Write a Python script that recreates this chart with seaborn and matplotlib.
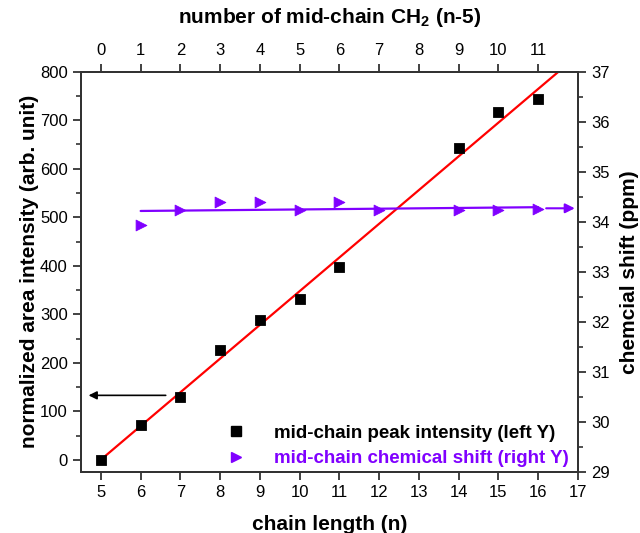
import numpy as np
import pandas as pd
import matplotlib
matplotlib.use("Agg")
import matplotlib.pyplot as plt
import seaborn as sns
from matplotlib.ticker import MultipleLocator
from matplotlib.lines import Line2D

# ---- data ----
chain_len_int = [5, 6, 7, 8, 9, 10, 11, 14, 15, 16]
intensity = [0, 72, 130, 227, 288, 331, 397, 643, 716, 743]
chain_len_shift = [6, 7, 8, 9, 10, 11, 12, 14, 15, 16]
chem_shift = [33.93, 34.23, 34.40, 34.40, 34.23, 34.40, 34.23, 34.23, 34.23, 34.25]
bottom_ticks = list(range(5, 18))
top_ticks = list(range(0, 12))
left_ticks = list(range(0, 801, 100))
right_ticks = list(range(29, 38))

sns.set_style("ticks")
plt.rcParams["font.family"] = ["Liberation Sans", "DejaVu Sans"]
plt.rcParams["mathtext.fontset"] = "custom"
plt.rcParams["mathtext.rm"] = "Liberation Sans:bold"
plt.rcParams["mathtext.bf"] = "Liberation Sans:bold"
plt.rcParams["text.color"] = "black"
plt.rcParams["axes.labelcolor"] = "black"
plt.rcParams["xtick.labelcolor"] = "black"
plt.rcParams["ytick.labelcolor"] = "black"

purple = "#8000FF"
df1 = pd.DataFrame({"n": chain_len_int, "I": intensity})
df2 = pd.DataFrame({"n": chain_len_shift, "s": chem_shift})

fig = plt.figure(figsize=(6.4, 5.33), dpi=100)
ax = fig.add_axes([0.1266, 0.1144, 0.9031 - 0.1266, 0.8655 - 0.1144])
ax2 = ax.twinx()

# fits
p1 = np.polyfit(df1["n"], df1["I"], 1)
xf1 = np.array([5, 17])
sns.lineplot(x=xf1, y=np.polyval(p1, xf1), ax=ax, color="red", lw=1.6, zorder=2)
sns.scatterplot(data=df1, x="n", y="I", ax=ax, marker="s", s=55, color="black",
                edgecolor="black", zorder=3)

p2 = np.polyfit(df2["n"], df2["s"], 1)
xf2 = np.array([6, 16])
sns.lineplot(x=xf2, y=np.polyval(p2, xf2), ax=ax2, color=purple, lw=1.6, zorder=2)
sns.scatterplot(data=df2, x="n", y="s", ax=ax2, marker=">", s=60, color=purple,
                edgecolor=purple, zorder=3)

# axis indication arrows
ax.annotate("", xy=(4.62, 133), xytext=(6.7, 133),
            arrowprops=dict(arrowstyle="-|>", color="black", lw=1.2, mutation_scale=12))
ax2.annotate("", xy=(16.92, 34.27), xytext=(16.2, 34.27), annotation_clip=False,
             arrowprops=dict(arrowstyle="-|>", color=purple, lw=1.5, mutation_scale=14,
                             shrinkA=0, shrinkB=0))

ax.set_xlim(4.5, 17)
ax.set_ylim(-25, 800)
ax2.set_ylim(29, 37)

ax.set_xticks(bottom_ticks)
ax.set_yticks(left_ticks)
ax.yaxis.set_minor_locator(MultipleLocator(50))
ax2.set_yticks(right_ticks)
ax2.yaxis.set_minor_locator(MultipleLocator(0.5))

for a in (ax, ax2):
    for sp in a.spines.values():
        sp.set_visible(True)
        sp.set_color("#333333")
        sp.set_linewidth(1.4)
ax.tick_params(axis="both", which="major", direction="out", length=6, width=1.3,
               labelsize=12, color="#333333")
ax.tick_params(axis="y", which="minor", direction="out", length=3.5, width=1.2, color="#333333")
ax2.tick_params(axis="y", which="major", direction="out", length=6, width=1.3,
                labelsize=12, color="#333333")
ax2.tick_params(axis="y", which="minor", direction="out", length=3.5, width=1.2, color="#333333")

top = ax.secondary_xaxis("top", functions=(lambda x: x - 5, lambda x: x + 5))
top.set_xticks(top_ticks)
top.tick_params(direction="out", length=6, width=1.3, labelsize=12, color="#333333")
top.spines["top"].set_color("#333333")
top.spines["top"].set_linewidth(1.4)
top.set_xlabel(r"number of mid-chain CH$_{2}$ (n-5)", fontsize=15, fontweight="bold", labelpad=15)

ax.set_xlabel("chain length (n)", fontsize=15, fontweight="bold", labelpad=11)
ax.set_ylabel("normalized area intensity (arb. unit)", fontsize=15, fontweight="bold", labelpad=1)
ax2.set_ylabel("chemcial shift (ppm)", fontsize=15, fontweight="bold", labelpad=7)

handles = [
    Line2D([], [], ls="none", marker="s", ms=6.5, color="black"),
    Line2D([], [], ls="none", marker=">", ms=7, color=purple),
]
leg = ax2.legend(handles, ["mid-chain peak intensity (left Y)", "mid-chain chemical shift (right Y)"],
                 loc="lower right", bbox_to_anchor=(1.015, -0.03), frameon=False,
                 prop={"weight": "bold", "size": 13.5}, handletextpad=1.0, labelspacing=0.45)
for t, c in zip(leg.get_texts(), ["black", purple]):
    t.set_color(c)

fig.savefig("out.png", dpi=100)
